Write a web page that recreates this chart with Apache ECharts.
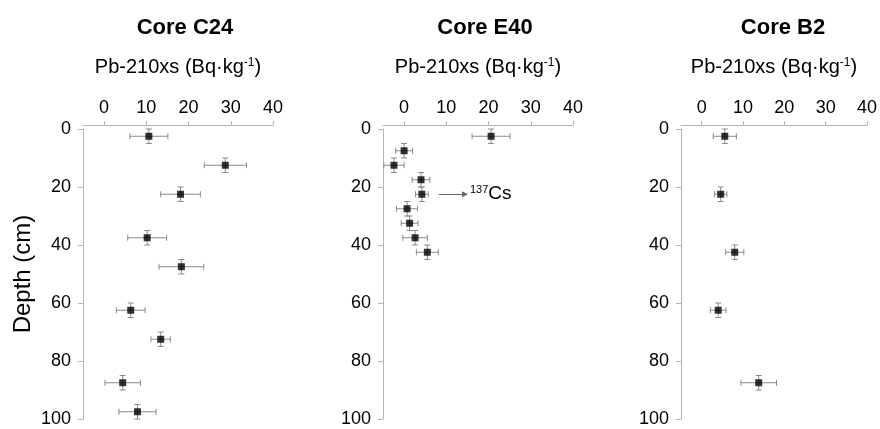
<!DOCTYPE html>
<html>
<head>
    <meta charset="utf-8">
    <title>Pb-210xs profiles</title>
    <script src="https://cdn.jsdelivr.net/npm/echarts@6.0.0/dist/echarts.min.js"></script>
    <style>
        body { margin: 0; background: #fff; }
        #main { width: 880px; height: 429px; }
    </style>
</head>
<body>
    <div id="main"></div>
<script>
// core names
const cores = ['Core C24', 'Core E40', 'Core B2'];
const xTicks = [0, 10, 20, 30, 40];
const depthHalf = 2.5;   // half sample interval (cm), vertical bars

// Core C24
const depthC24 = [2.5, 12.5, 22.5, 37.5, 47.5, 62.5, 72.5, 87.5, 97.5];
const pbC24    = [10.6, 28.7, 18.1, 10.2, 18.3, 6.3, 13.4, 4.4, 7.9];
const errC24   = [4.5, 5.0, 4.7, 4.6, 5.3, 3.4, 2.3, 4.2, 4.4];

// Core E40
const depthE40 = [2.5, 7.5, 12.5, 17.5, 22.5, 27.5, 32.5, 37.5, 42.5];
const pbE40    = [20.6, 0, -2.4, 4.0, 4.2, 0.7, 1.3, 2.6, 5.5];
const errE40   = [4.5, 2.0, 2.4, 2.1, 1.5, 2.5, 2.0, 2.9, 2.6];

// Core B2
const depthB2 = [2.5, 22.5, 42.5, 62.5, 87.5];
const pbB2    = [5.6, 4.6, 8.0, 4.0, 13.8];
const errB2   = [2.8, 1.5, 2.2, 1.9, 4.3];

// 137Cs marker in E40
const csDepth = 22.5;
const csArrow = [8.2, 14.4];

const profiles = [
    { depth: depthC24, pb: pbC24, err: errC24 },
    { depth: depthE40, pb: pbE40, err: errE40 },
    { depth: depthB2, pb: pbB2, err: errB2 }
];

const FONT = 'Liberation Sans, Arial, sans-serif';
const gridLefts = [83, 383, 681];

function renderErr(params, api) {
    const x = api.value(0), y = api.value(1), ex = api.value(2), ey = api.value(3);
    const l = api.coord([x - ex, y]), r = api.coord([x + ex, y]);
    const t = api.coord([x, y - ey]), b = api.coord([x, y + ey]);
    const c = 3;
    const style = { stroke: '#8a8a8a', lineWidth: 1 };
    const seg = (x1, y1, x2, y2) => ({ type: 'line', shape: { x1, y1, x2, y2 }, style });
    return {
        type: 'group',
        children: [
            seg(l[0], l[1], r[0], r[1]),
            seg(l[0], l[1] - c, l[0], l[1] + c),
            seg(r[0], r[1] - c, r[0], r[1] + c),
            seg(t[0], t[1], b[0], b[1]),
            seg(t[0] - c, t[1], t[0] + c, t[1]),
            seg(b[0] - c, b[1], b[0] + c, b[1])
        ]
    };
}

const axisGray = '#b5b5b5';

const option = {
    animation: false,
    textStyle: { fontFamily: FONT },
    title: cores.map((name, i) => ({
        text: name,
        left: gridLefts[i] + 97,
        top: 12,
        textAlign: 'center',
        textStyle: { fontFamily: FONT, fontSize: 22, fontWeight: 'bold', color: '#000' }
    })),
    grid: gridLefts.map(left => ({ left: left, width: 190, top: 129, height: 290 })),
    xAxis: gridLefts.map((_, i) => ({
        gridIndex: i,
        type: 'value',
        position: 'top',
        offset: 4,
        min: -5,
        max: 40,
        name: 'Pb-210xs (Bq·kg{sup|-1})',
        nameLocation: 'middle',
        nameGap: 47,
        nameTextStyle: {
            fontFamily: FONT, fontSize: 20, color: '#000',
            rich: { sup: { fontSize: 12, padding: [0, 0, 9, 0], color: '#000', fontFamily: FONT } }
        },
        axisLine: { show: true, onZero: false, lineStyle: { color: axisGray } },
        axisTick: { show: true, length: 4, lineStyle: { color: axisGray }, customValues: xTicks },
        axisLabel: { fontSize: 18, color: '#000', margin: 8, customValues: xTicks },
        splitLine: { show: false }
    })),
    yAxis: gridLefts.map((_, i) => ({
        gridIndex: i,
        type: 'value',
        inverse: true,
        min: 0,
        max: 100,
        interval: 20,
        name: i === 0 ? 'Depth (cm)' : '',
        nameLocation: 'middle',
        nameGap: 48,
        nameTextStyle: { fontFamily: FONT, fontSize: 24, color: '#000' },
        axisLine: { show: true, onZero: false, lineStyle: { color: axisGray } },
        axisTick: { show: true, length: 5, lineStyle: { color: axisGray } },
        axisLabel: { fontSize: 18, color: '#000', margin: 12 },
        splitLine: { show: false }
    })),
    series: []
};

profiles.forEach((p, i) => {
    option.series.push({
        type: 'custom',
        xAxisIndex: i,
        yAxisIndex: i,
        renderItem: renderErr,
        data: p.pb.map((v, k) => [v, p.depth[k], p.err[k], depthHalf]),
        z: 1,
        silent: true
    });
    const sc = {
        type: 'scatter',
        xAxisIndex: i,
        yAxisIndex: i,
        symbol: 'rect',
        symbolSize: 7,
        itemStyle: { color: '#000' },
        data: p.pb.map((v, k) => [v, p.depth[k]]),
        z: 3
    };
    if (i === 1) {
        sc.markLine = {
            silent: true,
            symbol: ['none', 'triangle'],
            symbolSize: 6,
            symbolRotate: -90,
            lineStyle: { color: '#666', type: 'solid', width: 1 },
            itemStyle: { color: '#000' },
            label: {
                position: 'end',
                distance: 5,
                formatter: '{sup|137}{cs|Cs}',
                rich: {
                    sup: { fontSize: 11, color: '#000', padding: [0, 0, 8, 0], fontFamily: FONT },
                    cs: { fontSize: 19, color: '#000', fontFamily: FONT }
                }
            },
            data: [[{ coord: [csArrow[0], csDepth] }, { coord: [csArrow[1], csDepth] }]]
        };
    }
    option.series.push(sc);
});

const chart = echarts.init(document.getElementById('main'));
chart.setOption(option);
</script>
</body>
</html>
